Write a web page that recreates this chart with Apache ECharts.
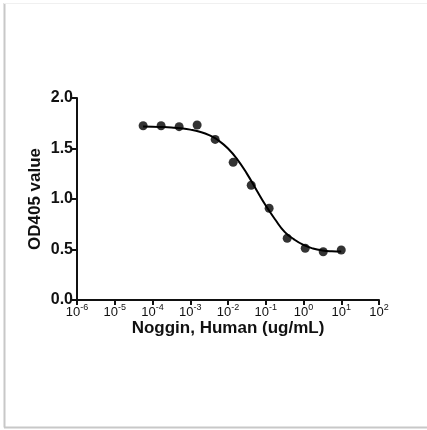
<!DOCTYPE html>
<html>
<head>
<meta charset="utf-8">
<script src="https://cdn.jsdelivr.net/npm/echarts@6/dist/echarts.min.js"></script>
<style>html,body{margin:0;padding:0;background:#fff}#c{width:427px;height:430px}</style>
</head>
<body>
<div id="c"></div>
<script>
// Measured points: concentration (ug/mL, 3-fold dilution) and OD405
var concentrations = [0.0000565, 0.000169, 0.000508, 0.00152, 0.00457, 0.0137, 0.0412, 0.123, 0.370, 1.11, 3.33, 10];
var od405 = [1.725, 1.725, 1.716, 1.733, 1.59, 1.363, 1.136, 0.908, 0.611, 0.512, 0.478, 0.495];
// Fitted curve at quarter-decade steps (log10 of concentration)
var curveLogX = [-4.25, -4.0, -3.75, -3.5, -3.25, -3.0, -2.75, -2.5, -2.25, -2.0, -1.75, -1.5, -1.25, -1.0, -0.75, -0.5, -0.25, 0, 0.25, 0.5, 0.75, 1.0];
var curveY = [1.717, 1.716, 1.713, 1.708, 1.700, 1.687, 1.666, 1.632, 1.579, 1.500, 1.390, 1.251, 1.092, 0.935, 0.797, 0.675, 0.60, 0.545, 0.51, 0.49, 0.482, 0.48];
var xTickExponents = [-6, -5, -4, -3, -2, -1, 0, 1, 2];
var yTicks = ['0.0', '0.5', '1.0', '1.5', '2.0'];

var pts = concentrations.map(function (c, i) { return [c, od405[i]]; });
var curve = curveLogX.map(function (l, i) { return [Math.pow(10, l), curveY[i]]; });
var font = '"Liberation Sans", Arial, sans-serif';

var chart = echarts.init(document.getElementById('c'));
chart.setOption({
  backgroundColor: '#fff',
  animation: false,
  graphic: [
    { type: 'line', shape: { x1: 4.5, y1: 3, x2: 4.5, y2: 427.5 }, style: { stroke: '#c8c8c8', lineWidth: 2 } },
    { type: 'line', shape: { x1: 4, y1: 427.5, x2: 427, y2: 427.5 }, style: { stroke: '#c8c8c8', lineWidth: 2 } },
    { type: 'line', shape: { x1: 4, y1: 3.5, x2: 427, y2: 3.5 }, style: { stroke: '#f0f0f0', lineWidth: 1 } }
  ],
  grid: { left: 77, right: 48, top: 98, bottom: 130 },
  xAxis: {
    type: 'log', logBase: 10, min: 1e-6, max: 1e2,
    name: 'Noggin, Human (ug/mL)', nameLocation: 'middle', nameGap: 20, nameMoveOverlap: false,
    nameTextStyle: { fontFamily: font, fontWeight: 'bold', fontSize: 17, color: '#111' },
    axisLine: { lineStyle: { color: '#111', width: 2 } },
    axisTick: { show: true, length: 5, lineStyle: { color: '#111', width: 2 } },
    splitLine: { show: false },
    axisLabel: {
      margin: 3,
      formatter: function (v) {
        var e = xTickExponents[Math.round(Math.log10(v)) + 6];
        return '{b|10}{s|' + e + '}';
      },
      rich: {
        b: { fontFamily: font, fontSize: 13, color: '#111', verticalAlign: 'bottom' },
        s: { fontFamily: font, fontSize: 9, color: '#111', verticalAlign: 'top', padding: [0, 0, 7, 0] }
      }
    }
  },
  yAxis: {
    type: 'value', min: 0, max: 2, interval: 0.5,
    name: 'OD405 value', nameLocation: 'middle', nameGap: 33, nameMoveOverlap: false,
    nameTextStyle: { fontFamily: font, fontWeight: 'bold', fontSize: 17, color: '#111' },
    axisLine: { show: true, lineStyle: { color: '#111', width: 2 } },
    axisTick: { show: true, length: 5, lineStyle: { color: '#111', width: 2 } },
    splitLine: { show: false },
    axisLabel: {
      margin: 4,
      fontFamily: font, fontWeight: 'bold', fontSize: 16, color: '#111',
      formatter: function (v) { return yTicks[Math.round(v / 0.5)]; }
    }
  },
  series: [
    {
      type: 'line', data: curve, smooth: true, showSymbol: false, symbol: 'none',
      lineStyle: { color: '#000', width: 2 }, z: 2
    },
    {
      type: 'scatter', data: pts, symbol: 'circle', symbolSize: 9,
      itemStyle: { color: '#000' }, z: 3
    }
  ]
});
</script>
</body>
</html>
